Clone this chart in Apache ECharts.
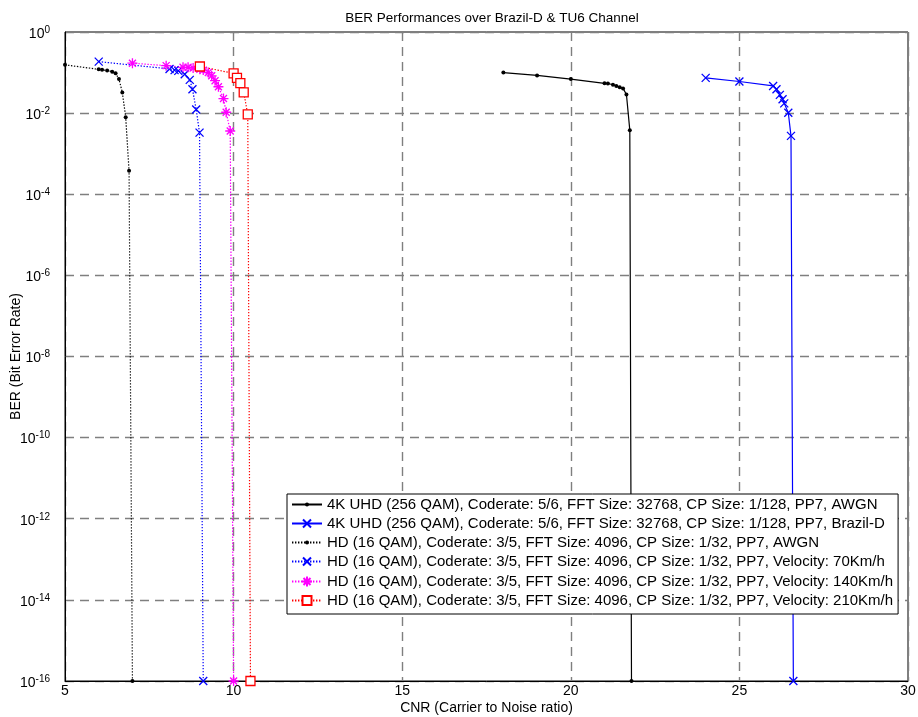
<!DOCTYPE html>
<html>
<head>
<meta charset="utf-8">
<script src="https://cdn.jsdelivr.net/npm/echarts@6/dist/echarts.min.js"></script>
<style>
  html, body { margin: 0; padding: 0; background: #fff; }
  #chart { width: 918px; height: 717px; }
</style>
</head>
<body>
<div id="chart"></div>
<script>
// 4K UHD (256 QAM), AWGN
const cnr4kAwgn = [18, 19, 20, 21.0, 21.1, 21.25, 21.35, 21.45, 21.55, 21.65, 21.75, 21.8];
const ber4kAwgn = [0.100, 0.0851, 0.0692, 0.0543, 0.0537, 0.0501, 0.0468, 0.0437, 0.0407, 0.0288, 0.0038, 1e-16];

// 4K UHD (256 QAM), Brazil-D
const cnr4kBrazil = [24, 25, 26, 26.1, 26.2, 26.28, 26.33, 26.45, 26.53, 26.6];
const ber4kBrazil = [0.0741, 0.0603, 0.0468, 0.0389, 0.0282, 0.0219, 0.0174, 0.0102, 0.00275, 1e-16];

// HD (16 QAM), AWGN
const cnrHdAwgn = [5, 6.0, 6.1, 6.25, 6.4, 6.5, 6.6, 6.7, 6.8, 6.9, 7.0];
const berHdAwgn = [0.155, 0.120, 0.117, 0.112, 0.105, 0.0955, 0.0692, 0.0324, 0.00794, 0.00038, 1e-16];

// HD (16 QAM), 70 Km/h
const cnrHd70 = [6.0, 8.1, 8.25, 8.36, 8.55, 8.7, 8.78, 8.89, 8.99, 9.1];
const berHd70 = [0.186, 0.123, 0.115, 0.110, 0.0912, 0.0661, 0.0389, 0.0123, 0.00331, 1e-16];

// HD (16 QAM), 140 Km/h
const cnrHd140 = [7.0, 8.0, 8.5, 8.65, 8.8, 9.0, 9.1, 9.25, 9.35, 9.45, 9.55, 9.7, 9.78, 9.9, 10.0];
const berHd140 = [0.170, 0.148, 0.135, 0.135, 0.129, 0.120, 0.115, 0.100, 0.0832, 0.0631, 0.0447, 0.0229, 0.0105, 0.00363, 1e-16];

// HD (16 QAM), 210 Km/h
const cnrHd210 = [9.0, 10.0, 10.1, 10.2, 10.3, 10.42, 10.5];
const berHd210 = [0.141, 0.0955, 0.0741, 0.0550, 0.0324, 0.00933, 1e-16];

const seriesNames = [
  '4K UHD (256 QAM), Coderate: 5/6, FFT Size: 32768, CP Size: 1/128, PP7, AWGN',
  '4K UHD (256 QAM), Coderate: 5/6, FFT Size: 32768, CP Size: 1/128, PP7, Brazil-D',
  'HD (16 QAM), Coderate: 3/5, FFT Size: 4096, CP Size: 1/32, PP7, AWGN',
  'HD (16 QAM), Coderate: 3/5, FFT Size: 4096, CP Size: 1/32, PP7, Velocity: 70Km/h',
  'HD (16 QAM), Coderate: 3/5, FFT Size: 4096, CP Size: 1/32, PP7, Velocity: 140Km/h',
  'HD (16 QAM), Coderate: 3/5, FFT Size: 4096, CP Size: 1/32, PP7, Velocity: 210Km/h'
];

const xTicks = { min: 5, max: 30, step: 5 };

const FONT = '"Liberation Sans", Arial, Helvetica, sans-serif';
const pairs = (xs, ys) => xs.map((x, i) => [x, ys[i]]);

// Marker glyphs share a 12x12 frame (the two leading moves pin the frame),
// so every glyph keeps its own relative size both on the plot and in the legend.
const FRAME = 'M0,0M12,12';
const DOT = 'path://' + FRAME + 'M4,6A2,2,0,1,1,8,6A2,2,0,1,1,4,6Z';
const CROSS = 'path://' + FRAME + 'M2,2L10,10M10,2L2,10';
const STAR = 'path://' + FRAME + 'M6,1L6,11M1,6L11,6M2.5,2.5L9.5,9.5M9.5,2.5L2.5,9.5';
const SQUARE = 'path://' + FRAME + 'M1.5,1.5L10.5,1.5L10.5,10.5L1.5,10.5Z';
const MARK_SIZE = 12;
const DOTTED = [1.4, 1.6];

function makeSeries(name, xs, ys, color, dash, symbol, fill, stroke) {
  return {
    name: name,
    type: 'line',
    data: pairs(xs, ys),
    clip: false,
    symbol: symbol,
    symbolSize: MARK_SIZE,
    showAllSymbol: true,
    animation: false,
    lineStyle: { color: color, width: 1.2, type: dash },
    itemStyle: {
      color: fill,
      borderColor: stroke ? color : 'none',
      borderWidth: stroke ? 1.3 : 0
    },
    emphasis: { disabled: true }
  };
}

const chart = echarts.init(document.getElementById('chart'), null, { renderer: 'canvas' });

chart.setOption({
  backgroundColor: '#fff',
  animation: false,
  title: {
    text: 'BER Performances over Brazil-D & TU6 Channel',
    left: 487,
    top: 6,
    textAlign: 'center',
    textStyle: { fontFamily: FONT, fontSize: 13.5, fontWeight: 'normal', color: '#000' }
  },
  grid: {
    left: 65, right: 10, top: 32, bottom: 36,
    outerBoundsMode: 'none',
    containLabel: false,
    show: true, borderColor: '#000', borderWidth: 1, backgroundColor: '#fff'
  },
  legend: {
    orient: 'vertical',
    left: 287,
    top: 494,
    padding: [3, 5, 6, 4],
    itemWidth: 30,
    itemHeight: 15,
    itemGap: 3,
    backgroundColor: '#fff',
    borderColor: '#000',
    borderWidth: 1,
    borderRadius: 0,
    textStyle: { fontFamily: FONT, fontSize: 15, lineHeight: 15, color: '#000' },
    data: seriesNames
  },
  xAxis: {
    type: 'value',
    min: xTicks.min,
    max: xTicks.max,
    interval: xTicks.step,
    name: 'CNR (Carrier to Noise ratio)',
    nameLocation: 'middle',
    nameGap: 20,
    nameMoveOverlap: false,
    nameTextStyle: { fontFamily: FONT, fontSize: 14, color: '#000' },
    axisLine: { show: true, lineStyle: { color: '#000', width: 1 } },
    axisTick: { show: false },
    axisLabel: { fontFamily: FONT, fontSize: 14, color: '#000', margin: 3 },
    splitLine: { show: true, lineStyle: { color: '#7f7f7f', width: 1.4, type: [9, 6] } }
  },
  yAxis: {
    type: 'log',
    logBase: 10,
    min: 1e-16,
    max: 1,
    interval: 2,
    name: 'BER (Bit Error Rate)',
    nameLocation: 'middle',
    nameGap: 42,
    nameMoveOverlap: false,
    nameTextStyle: { fontFamily: FONT, fontSize: 14, color: '#000' },
    axisLine: { show: true, lineStyle: { color: '#000', width: 1 } },
    axisTick: { show: false },
    axisLabel: {
      margin: 15,
      formatter: function (v) {
        return '{b|10}{e|' + Math.round(Math.log10(v)) + '}';
      },
      rich: {
        b: { fontFamily: FONT, fontSize: 14, color: '#000', padding: [4, 0, 0, 0] },
        e: { fontFamily: FONT, fontSize: 10, color: '#000', padding: [0, 0, 4, 0] }
      }
    },
    splitLine: { show: true, lineStyle: { color: '#7f7f7f', width: 1.4, type: [9, 6] } }
  },
  series: [
    makeSeries(seriesNames[0], cnr4kAwgn, ber4kAwgn, '#000000', 'solid', DOT, '#000000', false),
    makeSeries(seriesNames[1], cnr4kBrazil, ber4kBrazil, '#0000ff', 'solid', CROSS, 'none', true),
    makeSeries(seriesNames[2], cnrHdAwgn, berHdAwgn, '#000000', DOTTED, DOT, '#000000', false),
    makeSeries(seriesNames[3], cnrHd70, berHd70, '#0000ff', DOTTED, CROSS, 'none', true),
    makeSeries(seriesNames[4], cnrHd140, berHd140, '#ff00ff', DOTTED, STAR, 'none', true),
    makeSeries(seriesNames[5], cnrHd210, berHd210, '#ff0000', DOTTED, SQUARE, '#ffffff', true)
  ]
});
</script>
</body>
</html>
